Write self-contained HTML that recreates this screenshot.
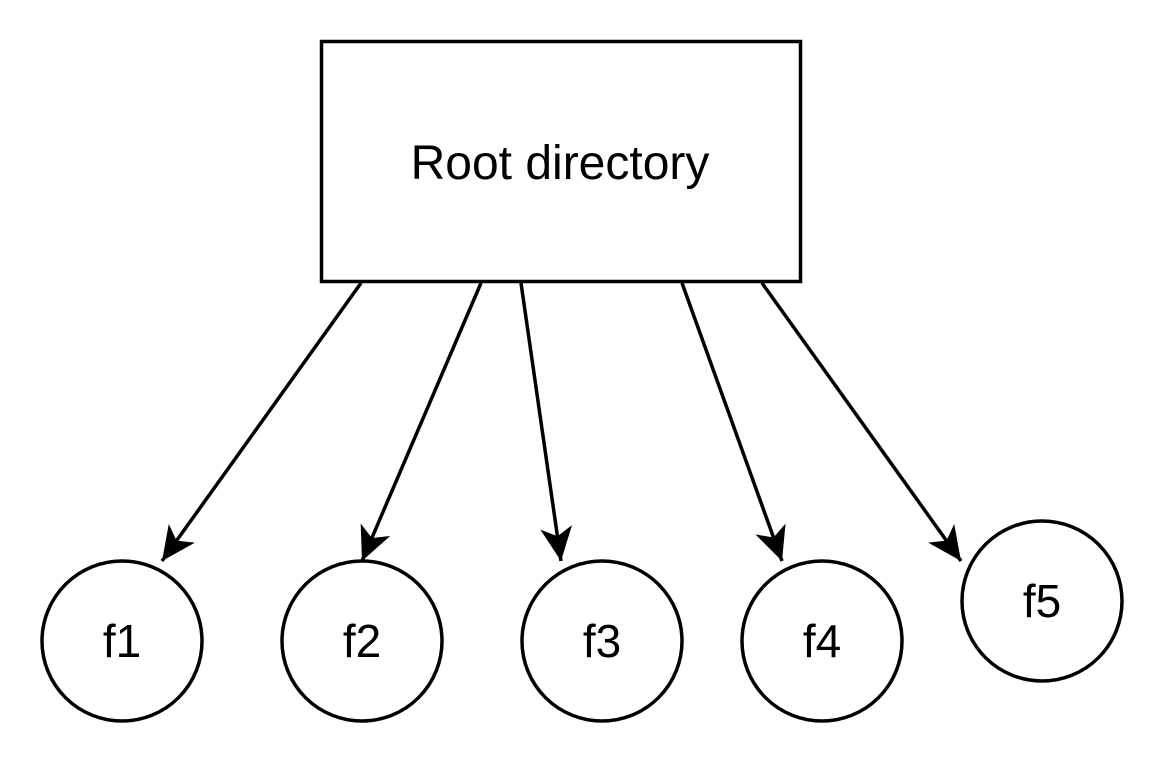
<!DOCTYPE html>
<html><head><style>body{margin:0;background:#fff}</style></head><body>
<svg width="1164" height="764" xmlns="http://www.w3.org/2000/svg">
<defs>
<marker id="a" markerUnits="userSpaceOnUse" markerWidth="40" markerHeight="40" refX="34" refY="16" orient="auto">
<path d="M0,0 L34,16 L0,32 L9,16 Z" fill="#000"/>
</marker>
</defs>
<rect x="321.5" y="41.5" width="479" height="240" fill="#fff" stroke="#000" stroke-width="3.5"/>
<text x="560" y="179" font-family="Liberation Sans, sans-serif" font-size="48" text-anchor="middle">Root directory</text>
<g stroke="#000" stroke-width="3.5" fill="none">
<line x1="361" y1="283" x2="162" y2="561" marker-end="url(#a)"/>
<line x1="481" y1="283" x2="362" y2="561" marker-end="url(#a)"/>
<line x1="521" y1="283" x2="561" y2="561" marker-end="url(#a)"/>
<line x1="682" y1="283" x2="782" y2="561" marker-end="url(#a)"/>
<line x1="762" y1="283" x2="961" y2="561" marker-end="url(#a)"/>
<circle cx="122" cy="641" r="80"/>
<circle cx="362" cy="641" r="80"/>
<circle cx="602" cy="641" r="80"/>
<circle cx="822" cy="641" r="80"/>
<circle cx="1042" cy="601" r="80"/>
</g>
<g font-family="Liberation Sans, sans-serif" font-size="46" text-anchor="middle">
<text x="122" y="657">f1</text>
<text x="362" y="657">f2</text>
<text x="602" y="657">f3</text>
<text x="822" y="657">f4</text>
<text x="1042" y="617">f5</text>
</g>
</svg>
</body></html>
